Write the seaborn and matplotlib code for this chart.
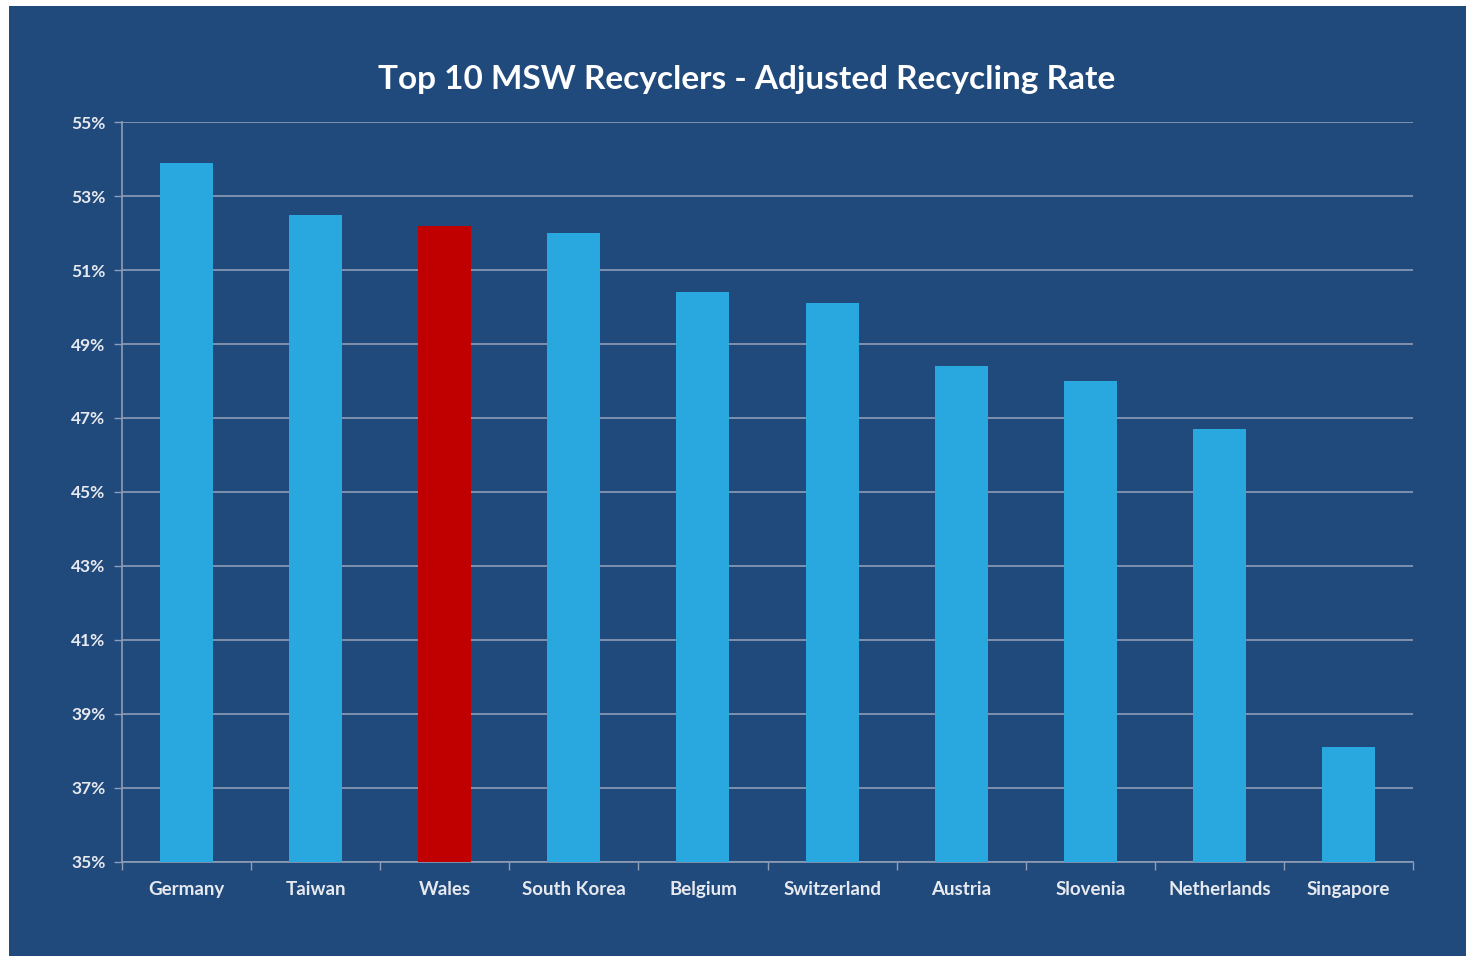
import matplotlib
matplotlib.use("Agg")
import matplotlib.pyplot as plt
import seaborn as sns
import pandas as pd
from matplotlib.patches import Rectangle
from matplotlib.ticker import FuncFormatter

countries = ["Germany", "Taiwan", "Wales", "South Korea", "Belgium",
             "Switzerland", "Austria", "Slovenia", "Netherlands", "Singapore"]
rates = [53.9, 52.5, 52.2, 52.0, 50.4, 50.1, 48.4, 48.0, 46.7, 38.1]
y_ticks = [35, 37, 39, 41, 43, 45, 47, 49, 51, 53, 55]
highlight = "Wales"
title = "Top 10 MSW Recyclers - Adjusted Recycling Rate"

BG = "#214A7C"
BAR = "#29A8E0"
RED = "#C00000"
TXT = "#E6E9EF"
GRID = "#8E9DB8"

sns.set_theme(style="white")
plt.rcParams["font.family"] = ["Lato", "DejaVu Sans"]

df = pd.DataFrame({"country": countries, "rate": rates})
palette = {c: (RED if c == highlight else BAR) for c in countries}

fig = plt.figure(figsize=(14.66, 9.56), dpi=100, facecolor="white")
fig.patches.append(Rectangle((9 / 1466, 0), 1 - 9 / 1466, 1 - 6 / 956,
                             transform=fig.transFigure, facecolor=BG,
                             edgecolor="none", zorder=-10))

ax = fig.add_axes([122 / 1466, 1 - 862 / 956, (1413 - 122) / 1466, (862 - 122) / 956])
ax.set_facecolor(BG)
ax.patch.set_alpha(0)

sns.barplot(data=df, x="country", y="rate", hue="country", palette=palette,
            width=0.41, saturation=1, legend=False, ax=ax, zorder=3,
            linewidth=0, edgecolor="none")

ax.set_ylim(35, 55)
ax.set_xlim(-0.5, len(countries) - 0.5)
ax.set_yticks(y_ticks)
ax.yaxis.set_major_formatter(FuncFormatter(lambda v, p: f"{int(round(v))}%"))
ax.grid(axis="y", color=GRID, linewidth=1.2, zorder=0)
ax.set_axisbelow(True)

for s in ["top", "right"]:
    ax.spines[s].set_visible(False)
for s in ["left", "bottom"]:
    ax.spines[s].set_color(GRID)
    ax.spines[s].set_linewidth(1.2)

ax.set_xlabel("")
ax.set_ylabel("")
ax.tick_params(axis="y", left=True, colors=GRID, labelcolor=TXT, length=6,
               width=1, direction="out", labelsize=12.5, pad=6)
ax.tick_params(axis="x", which="major", bottom=True, length=0, labelcolor=TXT,
               labelsize=13.5, pad=14)
for lbl in ax.get_xticklabels() + ax.get_yticklabels():
    lbl.set_fontweight("bold")

ax.set_xticks([i + 0.5 for i in range(-1, len(countries))], minor=True)
ax.tick_params(axis="x", which="minor", bottom=True, length=6, width=1,
               colors=GRID, direction="out")

fig.text(747 / 1466, 1 - 80 / 956, title, ha="center", va="center",
         fontsize=24, fontweight="bold", color="white")

fig.savefig("out.png", dpi=100, facecolor="white")
